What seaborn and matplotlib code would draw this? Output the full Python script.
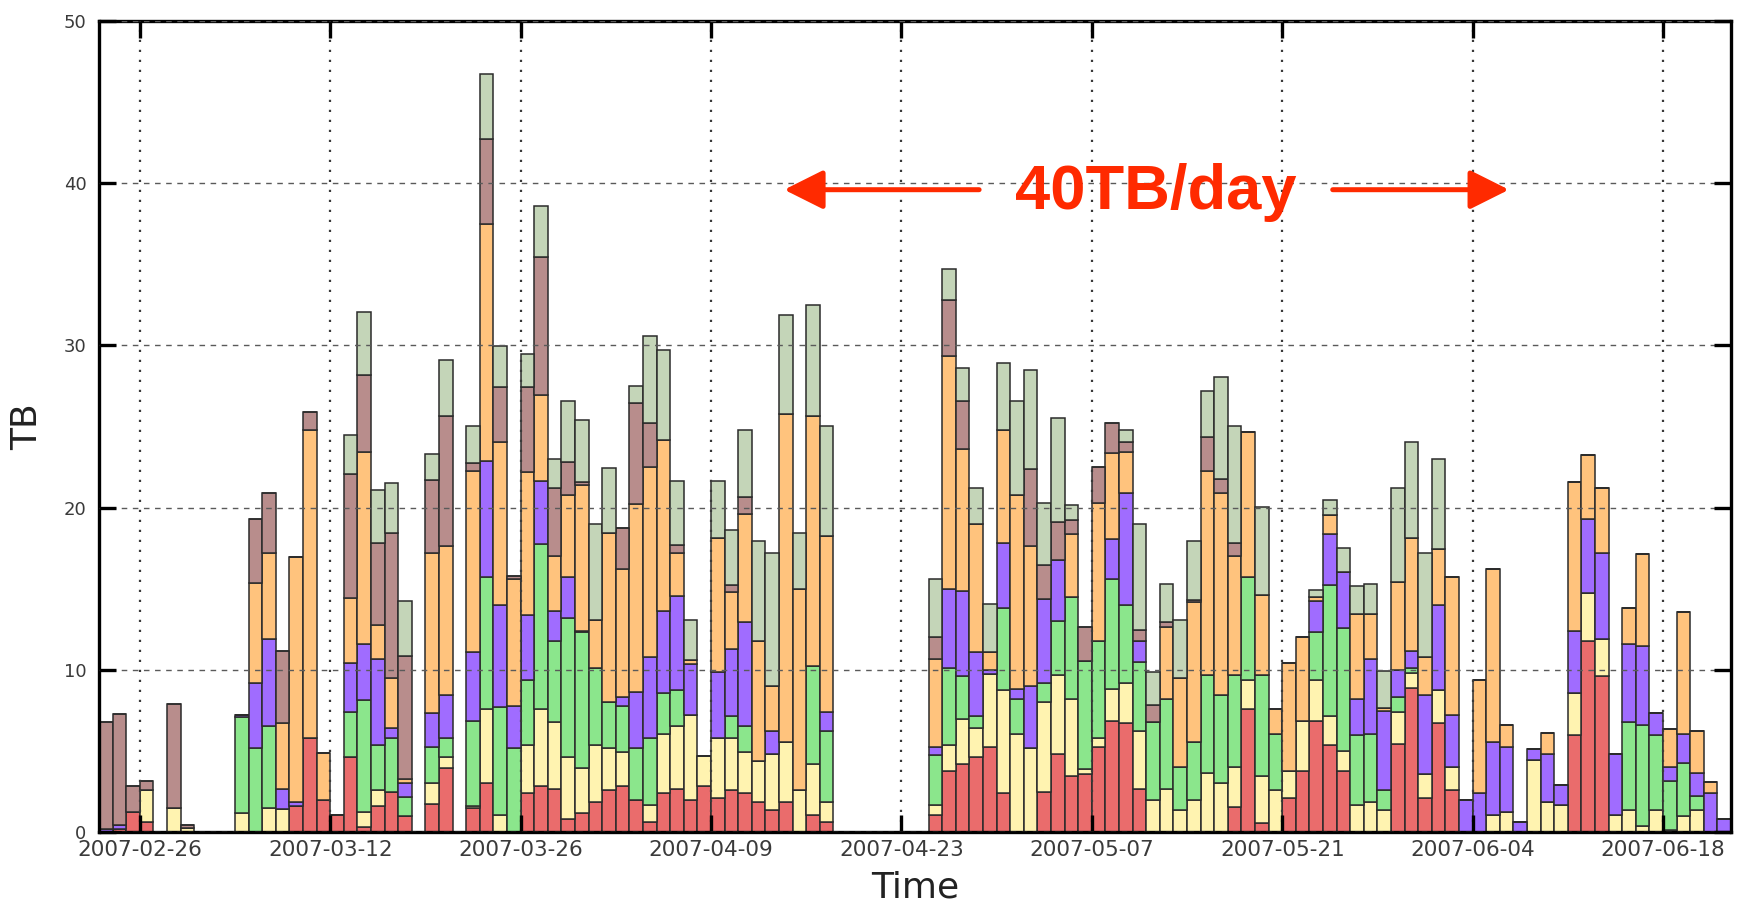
import numpy as np
import pandas as pd
import matplotlib
matplotlib.use("Agg")
import matplotlib.pyplot as plt
import matplotlib.dates as mdates
import seaborn as sns

# ---------------- data ----------------
start_date = "2007-02-23"
n_days = 120

red = [0, 0.2, 1.25, 0.64, 0, 0, 0, 0, 0, 0,
       0, 0, 0, 0, 1.6, 5.8, 1.96, 1.07, 4.63, 0.3,
       1.6, 2.49, 0.96, 0, 1.71, 3.92, 0, 1.5, 2.99, 0,
       0, 2.39, 2.85, 2.67, 0.78, 1.18, 1.85, 2.57, 2.85, 1.96,
       0.64, 2.42, 2.67, 1.96, 2.85, 2.07, 2.57, 2.39, 1.85, 1.35,
       1.85, 0, 1.07, 0.64, 0, 0, 0, 0, 0, 0,
       0, 1.07, 3.74, 4.17, 4.63, 5.24, 2.42, 0, 0, 2.49,
       4.81, 3.46, 3.56, 5.24, 6.84, 6.7, 2.67, 0, 0, 0,
       0, 0, 0, 1.53, 7.56, 0.53, 0, 2.07, 3.74, 6.84,
       5.35, 3.74, 0, 0, 0, 5.45, 8.9, 2.07, 6.7, 2.57,
       0, 0, 0, 0, 0, 0, 0, 0, 5.99, 11.76,
       9.62, 0, 0, 0, 0, 0, 0, 0, 0, 0]

yellow = [0, 0, 0, 1.93, 0, 1.5, 0.25, 0, 0, 0,
          1.2, 0, 1.5, 1.43, 0, 0, 0, 0, 0, 0.95,
          0.97, 0, 0, 0, 1.28, 0.71, 0, 0.1, 4.57, 1.07,
          0, 2.96, 4.71, 4.1, 3.85, 2.74, 3.5, 2.6, 2.07, 0,
          1.03, 3.64, 3.85, 5.27, 1.85, 3.7, 3.2, 2.53, 2.5, 3.46,
          3.67, 2.57, 3.1, 1.21, 0, 0, 0, 0, 0, 0,
          0, 0.6, 1.61, 2.78, 1.78, 4.49, 6.31, 6.06, 5.17, 5.53,
          4.88, 4.74, 0.3, 0.53, 1.96, 2.49, 3.57, 1.96, 2.67, 1.35,
          1.96, 3.63, 3.03, 2.5, 1.78, 2.93, 2.57, 1.67, 3.1, 2.5,
          1.78, 1.25, 1.67, 1.85, 1.35, 1.93, 0.9, 1.49, 2.03, 1.42,
          0, 0, 1.07, 1.25, 0, 4.45, 1.85, 1.67, 2.56, 2.96,
          2.25, 1.07, 1.35, 0.36, 1.35, 0.14, 0.96, 1.35, 0, 0]

green = [0, 0, 0, 0, 0, 0, 0, 0, 0, 0,
         5.9, 5.17, 5.02, 0, 0, 0, 0, 0, 2.78, 6.88,
         2.78, 3.28, 1.18, 0, 2.25, 1.14, 0, 5.24, 8.19, 6.66,
         5.17, 3.99, 10.19, 4.99, 8.56, 8.38, 4.74, 2.85, 2.85, 3.21,
         4.1, 2.49, 2.21, 0, 0, 0, 1.36, 1.6, 0, 0,
         0, 0, 6.06, 4.39, 0, 0, 0, 0, 0, 0,
         0, 3.07, 4.74, 2.67, 0.72, 0, 5.06, 2.14, 0, 1.14,
         3.31, 6.3, 6.66, 5.99, 6.77, 4.78, 4.27, 4.81, 5.53, 2.64,
         3.56, 6.06, 5.42, 5.66, 6.41, 6.23, 3.49, 0, 0, 2.96,
         8.12, 7.59, 4.28, 4.21, 1.22, 0.92, 0.3, 0, 0, 0,
         0, 0, 0, 0, 0, 0, 0, 0, 0, 0,
         0, 0, 5.42, 6.23, 4.6, 3.0, 3.32, 0.86, 0, 0]

purple = [0.2, 0.2, 0, 0, 0, 0, 0, 0, 0, 0,
          0.1, 4.0, 5.35, 1.24, 0.25, 0, 0, 0, 3.03, 3.45,
          5.34, 0.64, 0.89, 0, 2.07, 2.68, 0, 4.28, 7.13, 6.24,
          2.6, 4.02, 3.92, 1.89, 2.56, 0.07, 0, 0, 0.53, 3.45,
          5.03, 5.1, 5.81, 3.11, 0, 4.1, 4.17, 6.42, 0, 1.43,
          0, 0, 0, 1.17, 0, 0, 0, 0, 0, 0,
          0, 0.5, 4.88, 5.24, 3.99, 0.25, 4.03, 0.6, 3.85, 5.2,
          3.75, 0, 0, 0, 2.5, 6.95, 1.25, 0, 0, 0,
          0, 0, 0, 0, 0, 0, 0, 0, 0, 1.96,
          3.1, 3.46, 2.25, 4.63, 4.91, 1.68, 1.05, 4.89, 5.24, 3.24,
          1.96, 2.4, 4.45, 3.99, 0.64, 0.65, 2.96, 1.25, 3.82, 4.6,
          5.34, 3.74, 4.81, 4.89, 1.36, 0.85, 1.78, 1.42, 2.42, 0.78]

orange = [0, 0, 0, 0, 0, 0, 0, 0, 0, 0,
          0, 6.2, 5.33, 4.03, 15.1, 18.97, 2.94, 0, 3.99, 11.87,
          2.07, 3.1, 0.25, 0, 9.89, 9.19, 0, 11.15, 14.61, 10.05,
          7.8, 8.84, 5.27, 3.38, 5.03, 9.01, 2.99, 10.4, 7.92, 11.59,
          11.72, 10.51, 2.64, 0.24, 0, 8.23, 3.49, 6.66, 7.41, 2.78,
          20.28, 12.4, 15.43, 10.84, 0, 0, 0, 0, 0, 0,
          0, 5.45, 14.36, 8.73, 7.88, 1.14, 6.95, 11.98, 8.62, 0,
          0, 3.85, 0, 8.55, 5.27, 2.49, 0, 0, 4.45, 5.53,
          8.66, 12.58, 12.47, 7.34, 8.91, 4.92, 1.5, 6.67, 5.21, 0.2,
          1.18, 0, 5.27, 2.78, 0.15, 5.45, 6.95, 2.35, 3.49, 8.52,
          0, 7.0, 10.7, 1.35, 0, 0, 1.32, 0, 9.19, 3.95,
          3.99, 0, 2.25, 5.63, 0, 2.35, 7.48, 2.61, 0.68, 0]

brown = [6.6, 6.9, 1.6, 0.57, 0, 6.38, 0.2, 0, 0, 0,
         0, 3.9, 3.7, 4.45, 0, 1.13, 0, 0, 7.67, 4.74,
         5.06, 8.9, 7.59, 0, 4.5, 8.02, 0, 0.47, 5.24, 3.42,
         0.2, 5.24, 8.48, 4.17, 2.03, 0.18, 0, 0, 2.53, 6.23,
         2.68, 0, 0.5, 0, 0, 0, 0.43, 1.07, 0, 0,
         0, 0, 0, 0, 0, 0, 0, 0, 0, 0,
         0, 1.32, 3.46, 2.96, 0, 0, 0, 0, 4.74, 2.1,
         2.39, 0.89, 2.14, 2.21, 1.86, 0.65, 0.71, 1.07, 0.29, 0,
         0.1, 2.07, 0.82, 0.79, 0, 0, 0, 0, 0, 0,
         0, 0, 0, 0, 0, 0, 0, 0, 0, 0,
         0, 0, 0, 0, 0, 0, 0, 0, 0, 0,
         0, 0, 0, 0, 0, 0, 0, 0, 0, 0]

sage = [0, 0, 0, 0, 0, 0, 0, 0, 0, 0,
        0, 0, 0, 0, 0, 0, 0, 0, 2.38, 3.85,
        3.24, 3.1, 3.38, 0, 1.6, 3.42, 0, 2.31, 4.03, 2.5,
        0, 2.06, 3.18, 1.79, 3.74, 3.81, 5.92, 4.0, 0, 1.04,
        5.38, 5.53, 3.99, 2.5, 0, 3.57, 3.38, 4.1, 6.17, 8.19,
        6.1, 3.45, 6.84, 6.8, 0, 0, 0, 0, 0, 0,
        0, 3.6, 1.92, 2.07, 2.2, 2.96, 4.17, 5.77, 6.13, 3.85,
        6.41, 0.89, 0, 0, 0, 0.71, 6.53, 2.03, 2.38, 3.56,
        3.64, 2.85, 6.31, 7.23, 0, 5.45, 0, 0, 0, 0.44,
        0.96, 1.49, 1.68, 1.85, 2.28, 5.77, 5.96, 6.41, 5.53, 0,
        0, 0, 0, 0, 0, 0, 0, 0, 0, 0,
        0, 0, 0, 0, 0, 0, 0, 0, 0, 0]

# stacking order: first = top of stack, last = bottom
series_names = ["sage", "brown", "orange", "purple", "green", "yellow", "red"]
series_values = {"sage": sage, "brown": brown, "orange": orange,
                 "purple": purple, "green": green, "yellow": yellow, "red": red}
series_colors = {"sage": "#c4d5b8", "brown": "#b88d8c", "orange": "#ffc37d",
                 "purple": "#a06cff", "green": "#8be68c", "yellow": "#fff3b0",
                 "red": "#ea6c6c"}

tick_dates = ["2007-02-26", "2007-03-12", "2007-03-26", "2007-04-09", "2007-04-23",
              "2007-05-07", "2007-05-21", "2007-06-04", "2007-06-18"]
y_ticks = [0, 10, 20, 30, 40, 50]
x_range = ["2007-02-23", "2007-06-23"]

note_text = "40TB/day"
note_pos = ("2007-05-11 16:00", 38.4)
arrow_left = ("2007-04-28 17:00", "2007-04-14 09:00", 39.6)
arrow_right = ("2007-05-24 17:00", "2007-06-06 16:00", 39.6)

# ---------------- build frame ----------------
dates = pd.date_range(start_date, periods=n_days, freq="D")
day_num = mdates.date2num(dates.to_pydatetime())
rows = []
for name in series_names:
    for d, v in zip(day_num, series_values[name]):
        rows.append({"day": d + 0.5, "TB": v, "site": name})
df = pd.DataFrame(rows)

# ---------------- plot ----------------
sns.set_theme(style="ticks")
plt.rcParams["font.family"] = ["DejaVu Sans"]

fig = plt.figure(figsize=(17.44, 9.06), dpi=100)
ax = fig.add_axes([0.0568, 0.0817, 0.9358, 0.8951])

sns.histplot(data=df, x="day", weights="TB", hue="site", hue_order=series_names,
             multiple="stack", binwidth=1, binrange=(float(day_num[0]), float(day_num[-1] + 1)),
             palette=series_colors, alpha=1,
             edgecolor="#2b2b2b", linewidth=1.1, legend=False, ax=ax)

ax.set_xlim(mdates.date2num(pd.Timestamp(x_range[0])), mdates.date2num(pd.Timestamp(x_range[1])))
ax.set_ylim(y_ticks[0], y_ticks[-1])
ax.set_yticks(y_ticks)
ax.set_xticks(mdates.date2num(pd.to_datetime(tick_dates).to_pydatetime()))
ax.xaxis.set_major_formatter(mdates.DateFormatter("%Y-%m-%d"))

ax.set_axisbelow(False)
ax.yaxis.grid(True, linestyle=(0, (4, 4)), color="#5a5a5a", linewidth=1.0)
ax.xaxis.grid(True, linestyle=(0, (1, 3.5)), color="#3a3a3a", linewidth=1.6)

for sp in ax.spines.values():
    sp.set_visible(True)
    sp.set_linewidth(2.4)
    sp.set_color("black")

ax.tick_params(axis="both", which="major", direction="in", length=12, width=2.4,
               color="black", top=True, right=True)
ax.tick_params(axis="x", labelsize=15.5, labelcolor="#3a3a3a", pad=6)
ax.tick_params(axis="y", labelsize=13, labelcolor="#3a3a3a", pad=9)

ax.set_xlabel("Time", fontsize=26, color="#222222", labelpad=7)
ax.set_ylabel("TB", fontsize=26, color="#222222", labelpad=14)

red_col = "#ff2a00"
ax.text(mdates.date2num(pd.Timestamp(note_pos[0])), note_pos[1], note_text,
        color=red_col, fontsize=45.5, fontweight="bold", family=["Liberation Sans", "DejaVu Sans"],
        ha="center", va="baseline")
for tail, tip, yv in [arrow_left, arrow_right]:
    ax.annotate("", xy=(mdates.date2num(pd.Timestamp(tip)), yv),
                xytext=(mdates.date2num(pd.Timestamp(tail)), yv),
                arrowprops=dict(arrowstyle="-|>,head_length=1.2,head_width=0.6",
                                mutation_scale=20, lw=3.6, color=red_col,
                                shrinkA=0, shrinkB=0))

fig.savefig("out.png", dpi=100)
